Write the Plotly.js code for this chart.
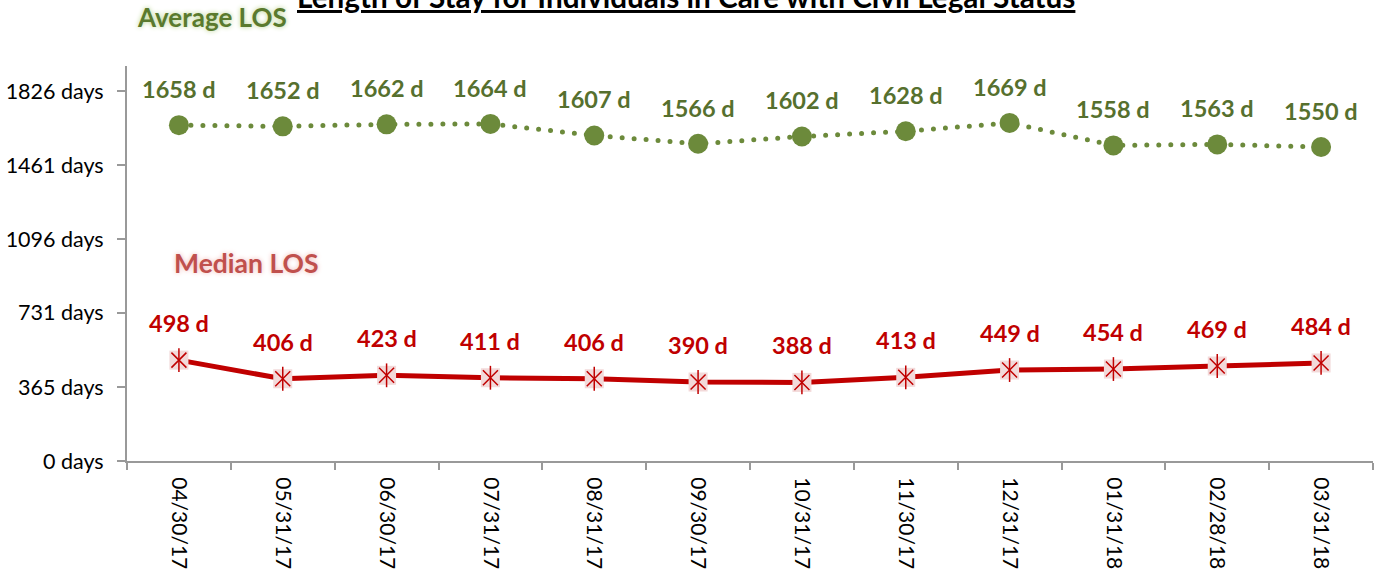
<!DOCTYPE html>
<html>
<head>
<meta charset="utf-8">
<script src="https://cdn.plot.ly/plotly-3.0.1.min.js"></script>
<style>
html,body{margin:0;padding:0;background:#fff;}
#chart{width:1385px;height:571px;}
.scatterlayer .js-line{stroke-linecap:round;}
</style>
</head>
<body>
<div id="chart"></div>
<script>
var months = ["04/30/17","05/31/17","06/30/17","07/31/17","08/31/17","09/30/17","10/31/17","11/30/17","12/31/17","01/31/18","02/28/18","03/31/18"];
var averageLOS = [1658,1652,1662,1664,1607,1566,1602,1628,1669,1558,1563,1550];
var medianLOS = [498,406,423,411,406,390,388,413,449,454,469,484];
var yTickVals = [0,365,731,1096,1461,1826];
var yTickText = ["0 days","365 days","731 days","1096 days","1461 days","1826 days"];

var FONT = "Lato, 'Noto Sans', sans-serif";
var GREEN_M = "#6C8A3B", GREEN_T = "#56702E", RED = "#C00000";

var traces = [
  {x: months, y: averageLOS, type: "scatter", mode: "lines+markers",
   line: {color: GREEN_M, width: 5, dash: "0px,12px"},
   marker: {symbol: "circle", size: 20, color: GREEN_M}, hoverinfo: "skip"},
  {x: months, y: medianLOS, type: "scatter", mode: "lines+markers",
   line: {color: RED, width: 5},
   marker: {symbol: "square", size: 19, color: "#F2D9D9", line: {width: 0}}, hoverinfo: "skip"},
  {x: months, y: medianLOS, type: "scatter", mode: "markers",
   marker: {symbol: "x-thin-open", size: 15, color: RED, line: {color: RED, width: 1.5}}, hoverinfo: "skip"},
  {x: months, y: medianLOS, type: "scatter", mode: "markers",
   marker: {symbol: "line-ns-open", size: 17, color: RED, line: {color: RED, width: 1.5}}, hoverinfo: "skip"}
];

var annotations = [];
months.forEach(function(m, i){
  annotations.push({x: m, y: averageLOS[i], xref: "x", yref: "y", text: "<b>" + averageLOS[i] + " d</b>",
    showarrow: false, yshift: 36, font: {family: FONT, size: 23.5, color: GREEN_T}});
  annotations.push({x: m, y: medianLOS[i], xref: "x", yref: "y", text: "<b>" + medianLOS[i] + " d</b>",
    showarrow: false, yshift: 37, font: {family: FONT, size: 23.5, color: RED}});
});
annotations.push({xref: "paper", yref: "paper", x: 0.4486, y: 1.127, xanchor: "center", yanchor: "bottom",
  text: "<b>Length of Stay for Individuals in Care with Civil Legal Status</b>", showarrow: false,
  font: {family: FONT, size: 29.7, color: "#000", lineposition: "under"}});
annotations.push({xref: "paper", yref: "paper", x: 0.0064, y: 1.124, xanchor: "left", yanchor: "middle",
  text: "<b>Average LOS</b>", showarrow: false,
  font: {family: FONT, size: 26, color: "#5A7A2E", shadow: "0 0 5px #B5D08A"}});
annotations.push({xref: "paper", yref: "paper", x: 0.036, y: 0.501, xanchor: "left", yanchor: "middle",
  text: "<b>Median LOS</b>", showarrow: false,
  font: {family: FONT, size: 26.5, color: "#C0504D", shadow: "0 0 5px #F0B8B6"}});

var layout = {
  width: 1385, height: 571,
  margin: {l: 127, r: 12, t: 66, b: 110},
  paper_bgcolor: "#fff", plot_bgcolor: "#fff",
  showlegend: false,
  font: {family: FONT, color: "#000"},
  xaxis: {type: "category", range: [-0.5, 11.5], tickson: "boundaries", ticks: "outside", ticklen: 7,
    tickcolor: "#999", tickwidth: 2, showline: true, linecolor: "#999", linewidth: 2, showgrid: false,
    tickangle: 90, ticklabelstandoff: 10, tickfont: {family: FONT, size: 21, color: "#000"}, zeroline: false},
  yaxis: {range: [0, 1950], tickvals: yTickVals, ticktext: yTickText, ticks: "outside", ticklen: 8,
    tickcolor: "#999", tickwidth: 2, showline: true, linecolor: "#999", linewidth: 2, showgrid: false,
    ticklabelstandoff: 9, zeroline: false, tickfont: {family: FONT, size: 21.5, color: "#000"}},
  annotations: annotations
};

Plotly.newPlot("chart", traces, layout, {displayModeBar: false, staticPlot: true});
</script>
</body>
</html>
